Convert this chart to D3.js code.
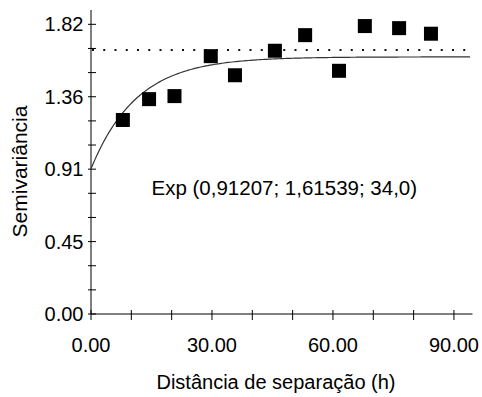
<!DOCTYPE html>
<html>
<head>
<meta charset="utf-8">
<script src="https://cdn.jsdelivr.net/npm/d3@7"></script>
<style>
  body { margin: 0; background: #fff; }
  text { font-family: "Liberation Sans", Arial, sans-serif; fill: #000; }
</style>
</head>
<body>
<div id="chart"></div>
<script>
// lag distances and semivariances
var lags = [7.9, 14.4, 20.7, 29.7, 35.7, 45.6, 53.1, 61.5, 67.9, 76.4, 84.3];
var semivar = [1.219, 1.350, 1.369, 1.620, 1.500, 1.654, 1.752, 1.528, 1.809, 1.796, 1.761];

// exponential model: nugget, sill, range
var model = [0.91207, 1.61539, 34.0];
var sampleVar = 1.658;

var xTicks = [0, 30, 60, 90];
var xMinor = [10, 20, 40, 50, 70, 80];
var yTicks = [0, 0.455, 0.91, 1.365, 1.82];
var yTickLabels = ["0.00", "0.45", "0.91", "1.36", "1.82"];

var width = 482, height = 397;
var svg = d3.select("#chart").append("svg")
    .attr("width", width)
    .attr("height", height);

var x = d3.scaleLinear().domain([0, 94.6]).range([91, 472.5]);
var y = d3.scaleLinear().domain([0, 1.91]).range([314, 10]);

// axis lines
svg.append("line")
    .attr("x1", x(0)).attr("x2", x(94.6))
    .attr("y1", y(0)).attr("y2", y(0))
    .attr("stroke", "#000");
svg.append("line")
    .attr("x1", x(0)).attr("x2", x(0))
    .attr("y1", y(0)).attr("y2", y(1.91))
    .attr("stroke", "#000");

// x ticks (crossing the axis)
svg.append("g").selectAll("line")
    .data(xTicks.concat(xMinor))
    .enter().append("line")
    .attr("x1", d => x(d)).attr("x2", d => x(d))
    .attr("y1", y(0) - 4).attr("y2", y(0) + 6)
    .attr("stroke", "#000");

svg.append("g").selectAll("text")
    .data(xTicks)
    .enter().append("text")
    .attr("x", d => x(d))
    .attr("y", 351.5)
    .attr("text-anchor", "middle")
    .style("font-size", "20px")
    .text(d => d.toFixed(2));

// y ticks, three intervals between labels
var yMinor = [];
for (var i = 0; i < yTicks.length - 1; i++) {
  var step = (yTicks[i + 1] - yTicks[i]) / 3;
  yMinor.push(yTicks[i] + step, yTicks[i] + 2 * step);
}
svg.append("g").selectAll("line")
    .data(yTicks.concat(yMinor))
    .enter().append("line")
    .attr("x1", x(0) - 3).attr("x2", x(0) + 5)
    .attr("y1", d => y(d)).attr("y2", d => y(d))
    .attr("stroke", "#000");

svg.append("g").selectAll("text")
    .data(yTicks)
    .enter().append("text")
    .attr("x", 83.5)
    .attr("y", d => y(d) + 7)
    .attr("text-anchor", "end")
    .style("font-size", "20px")
    .text((d, i) => yTickLabels[i]);

// sample variance (dotted)
svg.append("line")
    .attr("x1", x(0) + 1).attr("x2", x(94.6))
    .attr("y1", y(sampleVar)).attr("y2", y(sampleVar))
    .attr("stroke", "#111")
    .attr("stroke-width", 2)
    .attr("stroke-dasharray", "2,9.25");

// model curve
var c0 = model[0], c = model[1] - model[0], a = model[2];
var hs = d3.range(0, 94.01, 0.5);
var line = d3.line()
    .x(d => x(d))
    .y(d => y(c0 + c * (1 - Math.exp(-3 * d / a))));
svg.append("path")
    .datum(hs)
    .attr("d", line)
    .attr("fill", "none")
    .attr("stroke", "#333")
    .attr("stroke-width", 1.2);

// points
svg.append("g").selectAll("rect")
    .data(lags)
    .enter().append("rect")
    .attr("x", d => x(d) - 7)
    .attr("y", (d, i) => y(semivar[i]) - 7)
    .attr("width", 14).attr("height", 14)
    .attr("fill", "#000");

// annotation
svg.append("text")
    .attr("x", 151.5)
    .attr("y", 195)
    .style("font-size", "20.5px")
    .text("Exp (0,91207; 1,61539; 34,0)");

// axis titles
svg.append("text")
    .attr("x", 276)
    .attr("y", 388.5)
    .attr("text-anchor", "middle")
    .style("font-size", "20px")
    .text("Distância de separação (h)");

svg.append("text")
    .attr("transform", "translate(26.5,171.5) rotate(-90)")
    .attr("text-anchor", "middle")
    .style("font-size", "21px")
    .text("Semivariância");
</script>
</body>
</html>
